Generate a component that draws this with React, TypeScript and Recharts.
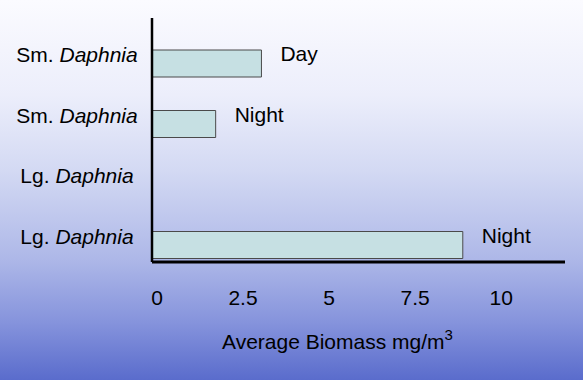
import React from 'react';
import { BarChart, Bar, XAxis, YAxis, LabelList, Label } from 'recharts';

const categories = ['Sm. Daphnia', 'Sm. Daphnia', 'Lg. Daphnia', 'Lg. Daphnia'];
const periods = ['Day', 'Night', 'Day', 'Night'];
const biomass = [3.18, 1.85, 0, 9.03];
const xTicks = [0, 2.5, 5, 7.5, 10];

const data = categories.map((c, i) => ({ id: `c${i}`, name: c, period: periods[i], value: biomass[i] }));

const FONT = '"Liberation Sans", Arial, sans-serif';

const YTick = (props: any) => {
  const { x, y, payload } = props;
  const name: string = categories[payload.index] ?? '';
  const [prefix, genus] = name.split(' ');
  return (
    <text x={x - 67} y={y - 9} textAnchor="middle" dominantBaseline="central" fontFamily={FONT} fontSize={21} fill="#000">
      <tspan>{prefix} </tspan>
      <tspan fontStyle="italic">{genus}</tspan>
    </text>
  );
};

const BarLabel = (props: any) => {
  const { x, y, width, height, value } = props;
  if (!width || width <= 0) return null;
  return (
    <text x={x + width + 19} y={y + height / 2 - 10} dominantBaseline="central" fontFamily={FONT} fontSize={21} fill="#000">
      {value}
    </text>
  );
};

const AxisTitle = (props: any) => {
  const vb = props.viewBox || {};
  return (
    <text x={vb.x + 70} y={vb.y + 87} fontFamily={FONT} fontSize={21} fill="#000">
      <tspan>Average Biomass mg/m</tspan>
      <tspan fontSize={15} dy={-9}>3</tspan>
    </text>
  );
};

export default function App() {
  return (
    <div
      style={{
        position: 'fixed',
        left: 0,
        top: 0,
        width: 583,
        height: 380,
        background: 'linear-gradient(to bottom, #fbfbff 0%, #eceefb 25%, #d3d9f3 45%, #aeb8e8 68%, #8593dc 85%, #5a6ccc 100%)',
      }}
    >
      <BarChart
        width={583}
        height={380}
        data={data}
        layout="vertical"
        margin={{ top: 18, right: 18, left: 12, bottom: 58 }}
        barSize={27}
      >
        <XAxis
          type="number"
          domain={[0, 12]}
          ticks={xTicks}
          allowDataOverflow
          height={60}
          tickLine={false}
          tickSize={0}
          tickMargin={28}
          axisLine={{ stroke: '#000', strokeWidth: 3 }}
          tick={{ fill: '#000', fontSize: 21, fontFamily: FONT, dx: 5 }}
        >
          <Label content={<AxisTitle />} />
        </XAxis>
        <YAxis
          type="category"
          dataKey="id"
          width={140}
          padding={{ top: 15, bottom: -13 }}
          tickLine={false}
          axisLine={{ stroke: '#000', strokeWidth: 2.5 }}
          tick={<YTick />}
          interval={0}
        />
        <Bar dataKey="value" fill="#c6e0e3" stroke="#4a4a4a" strokeWidth={1} isAnimationActive={false}>
          <LabelList dataKey="period" content={<BarLabel />} />
        </Bar>
      </BarChart>
    </div>
  );
}
